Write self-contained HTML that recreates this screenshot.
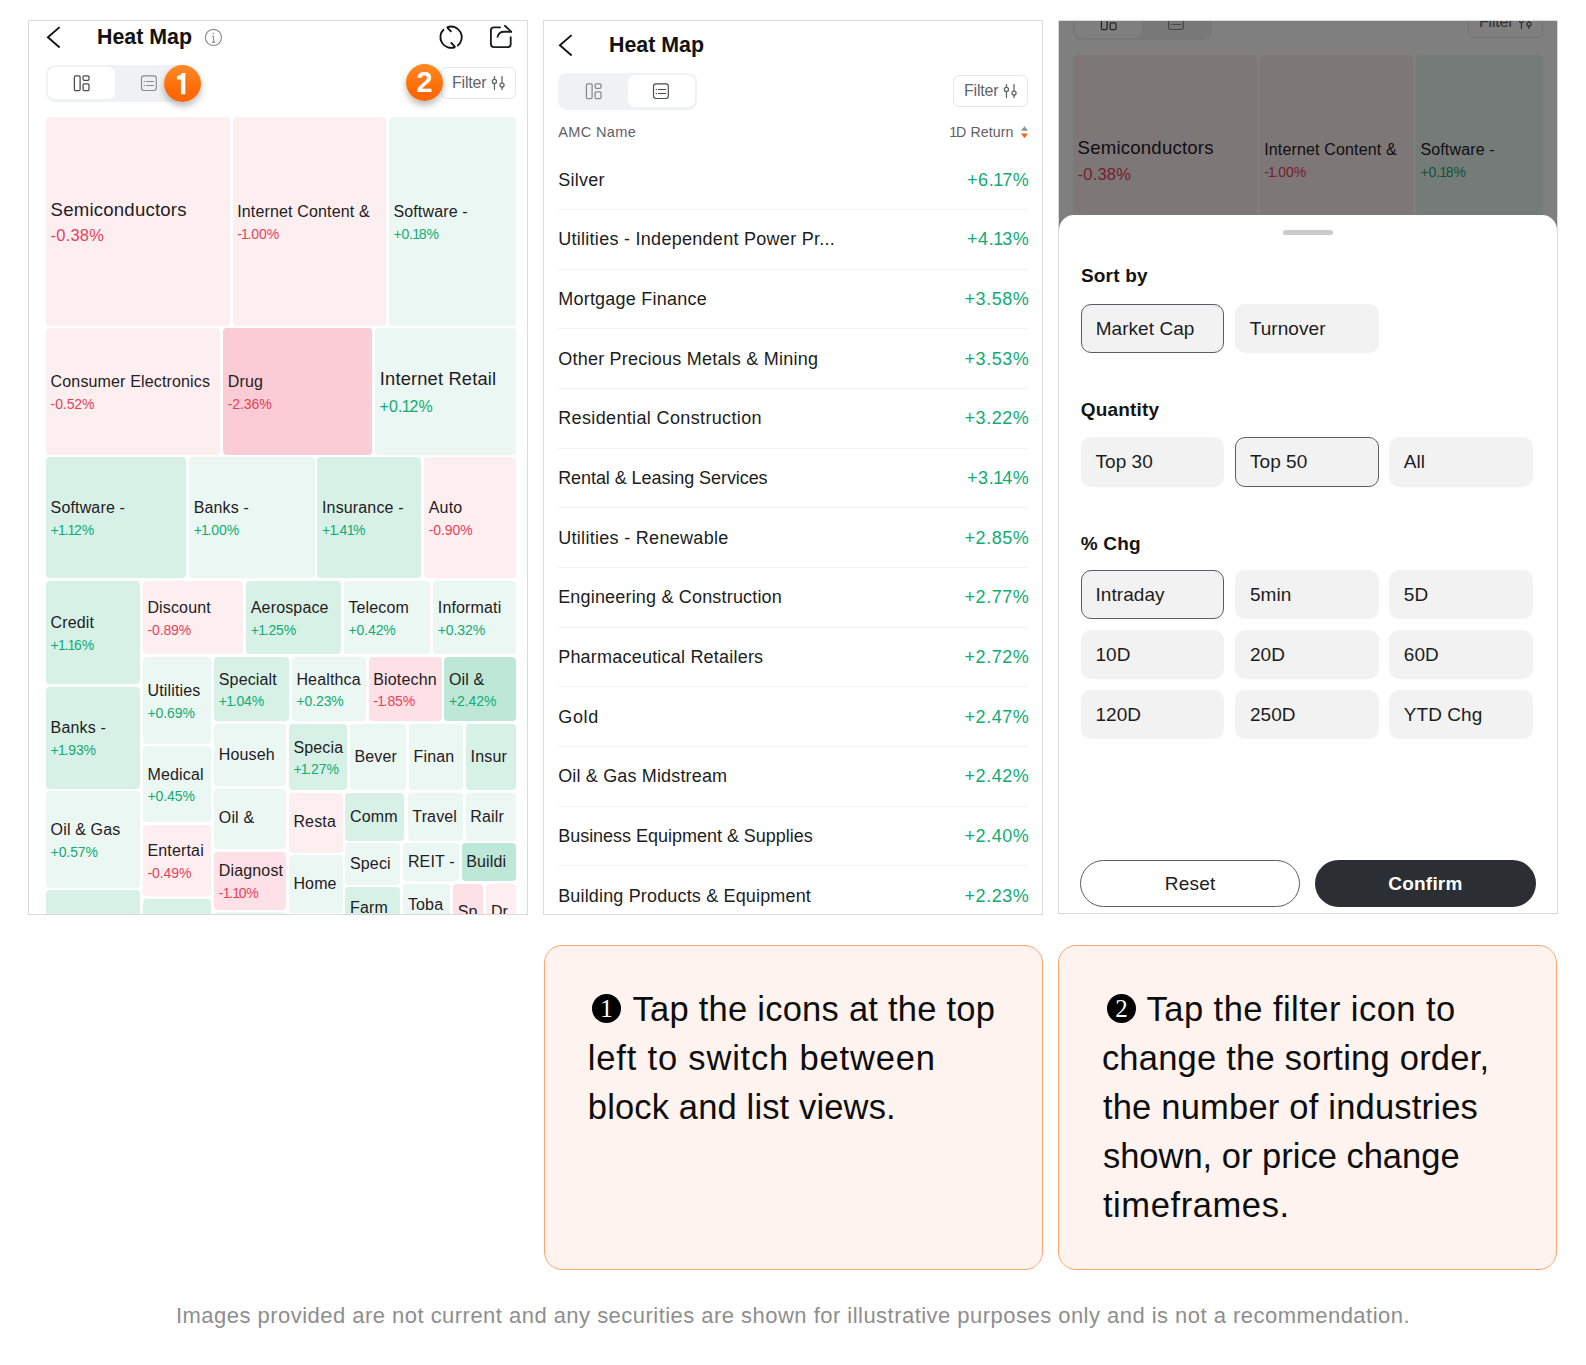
<!DOCTYPE html>
<html><head><meta charset="utf-8"><style>
*{margin:0;padding:0}
html,body{width:1586px;height:1365px;overflow:hidden;background:#fff}
body{position:relative;font-family:"Liberation Sans",sans-serif}
.t{position:absolute;white-space:pre}
.rr{position:absolute}
.tile{position:absolute;border-radius:4px}
.ic{position:absolute;overflow:visible}
.one{margin:0 -0.09em 0 -0.05em}
.panel{position:absolute;overflow:hidden}
.border{position:absolute;box-sizing:border-box;border:1px solid #dadada;pointer-events:none}
</style></head><body>
<div class="panel" style="left:0;top:0;width:1586px;height:1365px;clip-path:inset(21px 1059px 451px 29px)">
<svg class="ic" style="left:0.00px;top:0.00px" width="600" height="60" viewBox="0 0 600 60">
<polyline points="59.6,27.1 47.9,37.3 59.6,47.5" fill="none" stroke="#111" stroke-width="1.9" stroke-linecap="butt" stroke-linejoin="miter"/>
</svg>
<div class="t" style="left:96.60px;top:25.75px;font-size:22.5px;line-height:22.5px;color:#121212;font-weight:700;transform:scaleX(0.95);transform-origin:0 0;">Heat Map</div>
<svg class="ic" style="left:0.00px;top:0.00px" width="600" height="60" viewBox="0 0 600 60">
<circle cx="213.45" cy="37.4" r="8.05" fill="none" stroke="#8a8a8a" stroke-width="1.1"/>
<circle cx="213.5" cy="33.6" r="0.75" fill="#8a8a8a"/>
<path d="M212.1 36.2 H213.6 V41.9 M211.9 42.1 H215.2" fill="none" stroke="#8a8a8a" stroke-width="1.05"/>
<g fill="none" stroke="#111" stroke-width="1.85" stroke-linecap="butt">
<path d="M443.94 29.25 A10.7 10.7 0 0 0 455.11 47.12"/>
<path d="M450.9 42.3 L455.31 47.32"/>
<path d="M457.24 45.96 A10.7 10.7 0 0 0 447.09 27.28"/>
<path d="M446.89 27.08 L451.4 31.9"/>
</g>
<g fill="none" stroke="#1b1d21" stroke-width="1.85" stroke-linecap="round" stroke-linejoin="round">
<path d="M500.1 27.3 H494 Q490.9 27.3 490.9 30.4 V44 Q490.9 47.05 494 47.05 H507.6 Q510.7 47.05 510.7 44 V37.2"/>
<path d="M497.6 36.9 Q498.8 31.7 504 31.7 H511.2"/>
<path d="M504.9 25.8 L511.2 31.6"/>
</g>
</svg>
<div class="rr" style="left:46.30px;top:64.80px;width:138.7px;height:36.9px;background:#f0f1f3;border-radius:9px"></div>
<div class="rr" style="left:48.20px;top:67.30px;width:66.8px;height:32.1px;background:#fff;border-radius:7px"></div>
<svg class="ic" style="left:0.00px;top:0.00px" width="600" height="120" viewBox="0 0 600 120">
<rect x="74.4" y="75.9" width="5.7" height="14.6" rx="1.1" fill="none" stroke="#4b4b4b" stroke-width="1.25"/>
<rect x="83.1" y="75.9" width="5.9" height="4.4" rx="1.1" fill="none" stroke="#4b4b4b" stroke-width="1.25"/>
<rect x="83.1" y="83.8" width="5.9" height="6.7" rx="1.1" fill="none" stroke="#4b4b4b" stroke-width="1.25"/>
<rect x="141.5" y="75.85" width="14.8" height="14.6" rx="2.4" fill="none" stroke="#8a8a8a" stroke-width="1.15"/>
<circle cx="144.3" cy="81.5" r="0.7" fill="#8a8a8a"/><circle cx="144.3" cy="85.5" r="0.7" fill="#8a8a8a"/>
<line x1="146.4" y1="81.5" x2="153.6" y2="81.5" stroke="#8a8a8a" stroke-width="1.05" stroke-linecap="round"/>
<line x1="146.4" y1="85.5" x2="153.6" y2="85.5" stroke="#8a8a8a" stroke-width="1.05" stroke-linecap="round"/>
</svg>
<div class="rr" style="left:441.40px;top:67.40px;width:74.4px;height:31.9px;border:1px solid #e4e6ea;border-radius:6px;box-sizing:border-box;background:#fff"></div>
<div class="t" style="left:452.00px;top:75.06px;font-size:16px;line-height:16px;color:#62666d;font-weight:400;letter-spacing:-0.2px;">Filter</div>
<svg class="ic" style="left:0.00px;top:0.00px" width="600" height="120" viewBox="0 0 600 120">
<g stroke="#5f6368" stroke-width="1.25" fill="none" stroke-linecap="round">
<line x1="494.45" y1="76.6" x2="494.45" y2="79.4"/><line x1="494.45" y1="83.6" x2="494.45" y2="89.6"/>
<circle cx="494.45" cy="81.5" r="2.1"/>
<line x1="502" y1="76.6" x2="502" y2="83"/><line x1="502" y1="87.2" x2="502" y2="89.6"/>
<circle cx="502" cy="85.1" r="2.1"/>
</g></svg>
<div class="tile" style="left:46.00px;top:116.70px;width:184.00px;height:209.20px;background:#fdeff0"></div>
<div class="t" style="left:50.60px;top:200.66px;font-size:18.6px;line-height:18.6px;color:#1f2023;font-weight:400;letter-spacing:0.2px;">Semiconductors</div>
<div class="t" style="left:50.60px;top:227.33px;font-size:16.5px;line-height:16.5px;color:#ea3f5a;font-weight:400;letter-spacing:0.2px;">-0.38%</div>
<div class="tile" style="left:232.60px;top:116.70px;width:153.00px;height:209.20px;background:#fdeff0"></div>
<div class="t" style="left:237.20px;top:203.86px;font-size:16px;line-height:16px;color:#1f2023;font-weight:400;letter-spacing:0.15px;">Internet Content &amp;</div>
<div class="t" style="left:237.20px;top:226.65px;font-size:14px;line-height:14px;color:#ea3f5a;font-weight:400;letter-spacing:-0.1px;">-<span class="one">1</span>.00%</div>
<div class="tile" style="left:388.80px;top:116.70px;width:126.90px;height:209.20px;background:#ebf7f2"></div>
<div class="t" style="left:393.40px;top:203.86px;font-size:16px;line-height:16px;color:#1f2023;font-weight:400;letter-spacing:0.15px;">Software -</div>
<div class="t" style="left:393.40px;top:226.65px;font-size:14px;line-height:14px;color:#12ab73;font-weight:400;letter-spacing:-0.1px;">+0.<span class="one">1</span>8%</div>
<div class="tile" style="left:46.00px;top:328.40px;width:174.20px;height:126.50px;background:#fdeff0"></div>
<div class="t" style="left:50.60px;top:374.21px;font-size:16px;line-height:16px;color:#1f2023;font-weight:400;letter-spacing:0.15px;">Consumer Electronics</div>
<div class="t" style="left:50.60px;top:397.00px;font-size:14px;line-height:14px;color:#ea3f5a;font-weight:400;letter-spacing:-0.1px;">-0.52%</div>
<div class="tile" style="left:223.20px;top:328.40px;width:148.70px;height:126.50px;background:#fbccd5"></div>
<div class="t" style="left:227.80px;top:374.21px;font-size:16px;line-height:16px;color:#1f2023;font-weight:400;letter-spacing:0.15px;">Drug</div>
<div class="t" style="left:227.80px;top:397.00px;font-size:14px;line-height:14px;color:#ea3f5a;font-weight:400;letter-spacing:-0.1px;">-2.36%</div>
<div class="tile" style="left:374.90px;top:328.40px;width:140.80px;height:126.50px;background:#ebf7f2"></div>
<div class="t" style="left:379.80px;top:369.91px;font-size:18.3px;line-height:18.3px;color:#1f2023;font-weight:400;letter-spacing:0.18px;">Internet Retail</div>
<div class="t" style="left:379.50px;top:398.71px;font-size:16px;line-height:16px;color:#12ab73;font-weight:400;letter-spacing:0.15px;">+0.<span class="one">1</span>2%</div>
<div class="tile" style="left:46.00px;top:456.90px;width:140.30px;height:121.10px;background:#d7f1e7"></div>
<div class="t" style="left:50.60px;top:500.01px;font-size:16px;line-height:16px;color:#1f2023;font-weight:400;letter-spacing:0.15px;">Software -</div>
<div class="t" style="left:50.60px;top:522.80px;font-size:14px;line-height:14px;color:#12ab73;font-weight:400;letter-spacing:-0.1px;">+<span class="one">1</span>.<span class="one">1</span>2%</div>
<div class="tile" style="left:189.10px;top:456.90px;width:125.60px;height:121.10px;background:#ebf7f2"></div>
<div class="t" style="left:193.70px;top:500.01px;font-size:16px;line-height:16px;color:#1f2023;font-weight:400;letter-spacing:0.15px;">Banks -</div>
<div class="t" style="left:193.70px;top:522.80px;font-size:14px;line-height:14px;color:#12ab73;font-weight:400;letter-spacing:-0.1px;">+<span class="one">1</span>.00%</div>
<div class="tile" style="left:317.40px;top:456.90px;width:103.80px;height:121.10px;background:#d7f1e7"></div>
<div class="t" style="left:322.00px;top:500.01px;font-size:16px;line-height:16px;color:#1f2023;font-weight:400;letter-spacing:0.15px;">Insurance -</div>
<div class="t" style="left:322.00px;top:522.80px;font-size:14px;line-height:14px;color:#12ab73;font-weight:400;letter-spacing:-0.1px;">+<span class="one">1</span>.4<span class="one">1</span>%</div>
<div class="tile" style="left:424.20px;top:456.90px;width:91.50px;height:121.10px;background:#fdeff0"></div>
<div class="t" style="left:428.80px;top:500.01px;font-size:16px;line-height:16px;color:#1f2023;font-weight:400;letter-spacing:0.15px;">Auto</div>
<div class="t" style="left:428.80px;top:522.80px;font-size:14px;line-height:14px;color:#ea3f5a;font-weight:400;letter-spacing:-0.1px;">-0.90%</div>
<div class="tile" style="left:46.00px;top:580.70px;width:93.80px;height:103.30px;background:#d7f1e7"></div>
<div class="t" style="left:50.60px;top:614.91px;font-size:16px;line-height:16px;color:#1f2023;font-weight:400;letter-spacing:0.15px;">Credit</div>
<div class="t" style="left:50.60px;top:637.70px;font-size:14px;line-height:14px;color:#12ab73;font-weight:400;letter-spacing:-0.1px;">+<span class="one">1</span>.<span class="one">1</span>6%</div>
<div class="tile" style="left:46.00px;top:686.60px;width:93.80px;height:102.40px;background:#d7f1e7"></div>
<div class="t" style="left:50.60px;top:720.36px;font-size:16px;line-height:16px;color:#1f2023;font-weight:400;letter-spacing:0.15px;">Banks -</div>
<div class="t" style="left:50.60px;top:743.15px;font-size:14px;line-height:14px;color:#12ab73;font-weight:400;letter-spacing:-0.1px;">+<span class="one">1</span>.93%</div>
<div class="tile" style="left:46.00px;top:791.40px;width:93.80px;height:96.30px;background:#ebf7f2"></div>
<div class="t" style="left:50.60px;top:822.11px;font-size:16px;line-height:16px;color:#1f2023;font-weight:400;letter-spacing:0.15px;">Oil &amp; Gas</div>
<div class="t" style="left:50.60px;top:844.90px;font-size:14px;line-height:14px;color:#12ab73;font-weight:400;letter-spacing:-0.1px;">+0.57%</div>
<div class="tile" style="left:46.00px;top:890.20px;width:93.80px;height:50.50px;background:#d7f1e7"></div>
<div class="t" style="left:50.90px;top:912.96px;font-size:16px;line-height:16px;color:#1f2023;font-weight:400;">A</div>
<div class="tile" style="left:142.80px;top:580.70px;width:100.50px;height:73.30px;background:#fdeff0"></div>
<div class="t" style="left:147.40px;top:599.91px;font-size:16px;line-height:16px;color:#1f2023;font-weight:400;letter-spacing:0.15px;">Discount</div>
<div class="t" style="left:147.40px;top:622.70px;font-size:14px;line-height:14px;color:#ea3f5a;font-weight:400;letter-spacing:-0.1px;">-0.89%</div>
<div class="tile" style="left:246.20px;top:580.70px;width:94.50px;height:73.30px;background:#d7f1e7"></div>
<div class="t" style="left:250.80px;top:599.91px;font-size:16px;line-height:16px;color:#1f2023;font-weight:400;letter-spacing:0.15px;">Aerospace</div>
<div class="t" style="left:250.80px;top:622.70px;font-size:14px;line-height:14px;color:#12ab73;font-weight:400;letter-spacing:-0.1px;">+<span class="one">1</span>.25%</div>
<div class="tile" style="left:343.80px;top:580.70px;width:86.40px;height:73.30px;background:#ebf7f2"></div>
<div class="t" style="left:348.40px;top:599.91px;font-size:16px;line-height:16px;color:#1f2023;font-weight:400;letter-spacing:0.15px;">Telecom</div>
<div class="t" style="left:348.40px;top:622.70px;font-size:14px;line-height:14px;color:#12ab73;font-weight:400;letter-spacing:-0.1px;">+0.42%</div>
<div class="tile" style="left:433.20px;top:580.70px;width:82.50px;height:73.30px;background:#ebf7f2"></div>
<div class="t" style="left:437.80px;top:599.91px;font-size:16px;line-height:16px;color:#1f2023;font-weight:400;letter-spacing:0.15px;">Informati</div>
<div class="t" style="left:437.80px;top:622.70px;font-size:14px;line-height:14px;color:#12ab73;font-weight:400;letter-spacing:-0.1px;">+0.32%</div>
<div class="tile" style="left:142.90px;top:656.70px;width:68.00px;height:87.20px;background:#ebf7f2"></div>
<div class="t" style="left:147.50px;top:682.86px;font-size:16px;line-height:16px;color:#1f2023;font-weight:400;letter-spacing:0.15px;">Utilities</div>
<div class="t" style="left:147.50px;top:705.65px;font-size:14px;line-height:14px;color:#12ab73;font-weight:400;letter-spacing:-0.1px;">+0.69%</div>
<div class="tile" style="left:142.90px;top:746.40px;width:68.00px;height:75.20px;background:#ebf7f2"></div>
<div class="t" style="left:147.50px;top:766.56px;font-size:16px;line-height:16px;color:#1f2023;font-weight:400;letter-spacing:0.15px;">Medical</div>
<div class="t" style="left:147.50px;top:789.35px;font-size:14px;line-height:14px;color:#12ab73;font-weight:400;letter-spacing:-0.1px;">+0.45%</div>
<div class="tile" style="left:142.90px;top:824.70px;width:68.00px;height:71.30px;background:#fdeff0"></div>
<div class="t" style="left:147.50px;top:842.91px;font-size:16px;line-height:16px;color:#1f2023;font-weight:400;letter-spacing:0.15px;">Entertai</div>
<div class="t" style="left:147.50px;top:865.70px;font-size:14px;line-height:14px;color:#ea3f5a;font-weight:400;letter-spacing:-0.1px;">-0.49%</div>
<div class="tile" style="left:142.90px;top:898.60px;width:68.00px;height:62.10px;background:#d7f1e7"></div>
<div class="tile" style="left:214.20px;top:656.70px;width:74.60px;height:64.80px;background:#d7f1e7"></div>
<div class="t" style="left:218.80px;top:671.66px;font-size:16px;line-height:16px;color:#1f2023;font-weight:400;letter-spacing:0.15px;">Specialt</div>
<div class="t" style="left:218.80px;top:694.45px;font-size:14px;line-height:14px;color:#12ab73;font-weight:400;letter-spacing:-0.1px;">+<span class="one">1</span>.04%</div>
<div class="tile" style="left:291.80px;top:656.70px;width:73.80px;height:64.80px;background:#ebf7f2"></div>
<div class="t" style="left:296.40px;top:671.66px;font-size:16px;line-height:16px;color:#1f2023;font-weight:400;letter-spacing:0.15px;">Healthca</div>
<div class="t" style="left:296.40px;top:694.45px;font-size:14px;line-height:14px;color:#12ab73;font-weight:400;letter-spacing:-0.1px;">+0.23%</div>
<div class="tile" style="left:368.70px;top:656.70px;width:72.90px;height:64.80px;background:#fde1e6"></div>
<div class="t" style="left:373.30px;top:671.66px;font-size:16px;line-height:16px;color:#1f2023;font-weight:400;letter-spacing:0.15px;">Biotechn</div>
<div class="t" style="left:373.30px;top:694.45px;font-size:14px;line-height:14px;color:#ea3f5a;font-weight:400;letter-spacing:-0.1px;">-<span class="one">1</span>.85%</div>
<div class="tile" style="left:444.40px;top:656.70px;width:71.30px;height:64.80px;background:#bde8d8"></div>
<div class="t" style="left:449.00px;top:671.66px;font-size:16px;line-height:16px;color:#1f2023;font-weight:400;letter-spacing:0.15px;">Oil &amp;</div>
<div class="t" style="left:449.00px;top:694.45px;font-size:14px;line-height:14px;color:#12ab73;font-weight:400;letter-spacing:-0.1px;">+2.42%</div>
<div class="tile" style="left:214.20px;top:723.90px;width:71.50px;height:62.30px;background:#ebf7f2"></div>
<div class="t" style="left:218.80px;top:746.71px;font-size:16px;line-height:16px;color:#1f2023;font-weight:400;letter-spacing:0.15px;">Househ</div>
<div class="tile" style="left:214.20px;top:788.70px;width:71.50px;height:60.20px;background:#ebf7f2"></div>
<div class="t" style="left:218.80px;top:810.46px;font-size:16px;line-height:16px;color:#1f2023;font-weight:400;letter-spacing:0.15px;">Oil &amp;</div>
<div class="tile" style="left:214.20px;top:851.50px;width:71.50px;height:58.30px;background:#fde1e6"></div>
<div class="t" style="left:218.80px;top:863.21px;font-size:16px;line-height:16px;color:#1f2023;font-weight:400;letter-spacing:0.15px;">Diagnost</div>
<div class="t" style="left:218.80px;top:886.00px;font-size:14px;line-height:14px;color:#ea3f5a;font-weight:400;letter-spacing:-0.1px;">-<span class="one">1</span>.<span class="one">1</span>0%</div>
<div class="tile" style="left:214.20px;top:912.40px;width:71.50px;height:48.30px;background:#ebf7f2"></div>
<div class="tile" style="left:288.80px;top:723.90px;width:58.20px;height:66.40px;background:#d7f1e7"></div>
<div class="t" style="left:293.40px;top:739.66px;font-size:16px;line-height:16px;color:#1f2023;font-weight:400;letter-spacing:0.15px;">Specia</div>
<div class="t" style="left:293.40px;top:762.45px;font-size:14px;line-height:14px;color:#12ab73;font-weight:400;letter-spacing:-0.1px;">+<span class="one">1</span>.27%</div>
<div class="tile" style="left:349.80px;top:723.90px;width:56.30px;height:66.40px;background:#ebf7f2"></div>
<div class="t" style="left:354.40px;top:748.76px;font-size:16px;line-height:16px;color:#1f2023;font-weight:400;letter-spacing:0.15px;">Bever</div>
<div class="tile" style="left:408.90px;top:723.90px;width:54.40px;height:66.40px;background:#ebf7f2"></div>
<div class="t" style="left:413.50px;top:748.76px;font-size:16px;line-height:16px;color:#1f2023;font-weight:400;letter-spacing:0.15px;">Finan</div>
<div class="tile" style="left:466.00px;top:723.90px;width:49.70px;height:66.40px;background:#d7f1e7"></div>
<div class="t" style="left:470.60px;top:748.76px;font-size:16px;line-height:16px;color:#1f2023;font-weight:400;letter-spacing:0.15px;">Insur</div>
<div class="tile" style="left:288.80px;top:792.80px;width:53.80px;height:59.80px;background:#fdeff0"></div>
<div class="t" style="left:293.40px;top:814.36px;font-size:16px;line-height:16px;color:#1f2023;font-weight:400;letter-spacing:0.15px;">Resta</div>
<div class="tile" style="left:288.80px;top:855.00px;width:53.80px;height:58.20px;background:#ebf7f2"></div>
<div class="t" style="left:293.40px;top:875.76px;font-size:16px;line-height:16px;color:#1f2023;font-weight:400;letter-spacing:0.15px;">Home</div>
<div class="tile" style="left:345.40px;top:792.80px;width:59.10px;height:48.10px;background:#d7f1e7"></div>
<div class="t" style="left:350.00px;top:808.51px;font-size:16px;line-height:16px;color:#1f2023;font-weight:400;letter-spacing:0.15px;">Comm</div>
<div class="tile" style="left:407.70px;top:792.80px;width:55.20px;height:48.10px;background:#ebf7f2"></div>
<div class="t" style="left:412.30px;top:808.51px;font-size:16px;line-height:16px;color:#1f2023;font-weight:400;letter-spacing:0.15px;">Travel</div>
<div class="tile" style="left:465.70px;top:792.80px;width:50.00px;height:48.10px;background:#ebf7f2"></div>
<div class="t" style="left:470.30px;top:808.51px;font-size:16px;line-height:16px;color:#1f2023;font-weight:400;letter-spacing:0.15px;">Railr</div>
<div class="tile" style="left:345.40px;top:843.20px;width:54.70px;height:41.80px;background:#ebf7f2"></div>
<div class="t" style="left:350.00px;top:855.76px;font-size:16px;line-height:16px;color:#1f2023;font-weight:400;letter-spacing:0.15px;">Speci</div>
<div class="tile" style="left:403.30px;top:843.20px;width:55.30px;height:38.10px;background:#ebf7f2"></div>
<div class="t" style="left:407.90px;top:853.91px;font-size:16px;line-height:16px;color:#1f2023;font-weight:400;letter-spacing:0.15px;">REIT -</div>
<div class="tile" style="left:461.60px;top:843.20px;width:54.10px;height:38.10px;background:#bde8d8"></div>
<div class="t" style="left:466.20px;top:853.91px;font-size:16px;line-height:16px;color:#1f2023;font-weight:400;letter-spacing:0.15px;">Buildi</div>
<div class="tile" style="left:345.40px;top:887.30px;width:54.70px;height:41.60px;background:#d7f1e7"></div>
<div class="t" style="left:350.00px;top:899.76px;font-size:16px;line-height:16px;color:#1f2023;font-weight:400;letter-spacing:0.15px;">Farm</div>
<div class="tile" style="left:403.30px;top:884.00px;width:46.90px;height:41.70px;background:#ebf7f2"></div>
<div class="t" style="left:407.90px;top:896.51px;font-size:16px;line-height:16px;color:#1f2023;font-weight:400;letter-spacing:0.15px;">Toba</div>
<div class="tile" style="left:453.20px;top:884.00px;width:29.90px;height:56.30px;background:#fde1e6"></div>
<div class="t" style="left:457.80px;top:903.81px;font-size:16px;line-height:16px;color:#1f2023;font-weight:400;letter-spacing:0.15px;">Sp</div>
<div class="tile" style="left:486.30px;top:884.00px;width:29.40px;height:56.30px;background:#fdeff0"></div>
<div class="t" style="left:490.90px;top:903.81px;font-size:16px;line-height:16px;color:#1f2023;font-weight:400;letter-spacing:0.15px;">Dr</div>
</div>
<div class="border" style="left:28px;top:20px;width:500px;height:895px"></div>
<div class="rr" style="left:163.90px;top:65.30px;width:37px;height:37px;border-radius:50%;background:linear-gradient(180deg,#ff8a24 0%,#ff6a05 70%,#ff6400 100%);box-shadow:0 4px 7px rgba(0,0,0,0.28)"></div><svg class="ic" style="left:0;top:0" width="300" height="120" viewBox="0 0 300 120"><path d="M180.9 94.2 L185.3 94.2 L185.3 72.9 L181.5 72.9 Q180.9 75.8 176.9 76.0 L176.9 79.4 L180.9 79.4 Z" fill="#fff"/></svg>
<div class="rr" style="left:406.00px;top:64.10px;width:37px;height:37px;border-radius:50%;background:linear-gradient(180deg,#ff8a24 0%,#ff6a05 70%,#ff6400 100%);box-shadow:0 4px 7px rgba(0,0,0,0.28)"></div><div class="t" style="left:406.00px;width:37px;text-align:center;top:68.35px;font-size:29px;line-height:29px;color:#fff;font-weight:700">2</div>
<div class="panel" style="left:0;top:0;width:1586px;height:1365px;clip-path:inset(21px 544px 451px 544px)">
<svg class="ic" style="left:512.00px;top:8.00px" width="600" height="60" viewBox="0 0 600 60">
<polyline points="59.6,27.1 47.9,37.3 59.6,47.5" fill="none" stroke="#111" stroke-width="1.9" stroke-linecap="butt" stroke-linejoin="miter"/>
</svg>
<div class="t" style="left:608.60px;top:33.75px;font-size:22.5px;line-height:22.5px;color:#121212;font-weight:700;transform:scaleX(0.95);transform-origin:0 0;">Heat Map</div>
<div class="rr" style="left:558.30px;top:72.80px;width:138.7px;height:36.9px;background:#f0f1f3;border-radius:9px"></div>
<div class="rr" style="left:628.00px;top:75.30px;width:66.8px;height:32.1px;background:#fff;border-radius:7px"></div>
<svg class="ic" style="left:512.00px;top:8.00px" width="600" height="120" viewBox="0 0 600 120">
<rect x="74.4" y="75.9" width="5.7" height="14.6" rx="1.1" fill="none" stroke="#8a8a8a" stroke-width="1.25"/>
<rect x="83.1" y="75.9" width="5.9" height="4.4" rx="1.1" fill="none" stroke="#8a8a8a" stroke-width="1.25"/>
<rect x="83.1" y="83.8" width="5.9" height="6.7" rx="1.1" fill="none" stroke="#8a8a8a" stroke-width="1.25"/>
<rect x="141.5" y="75.85" width="14.8" height="14.6" rx="2.4" fill="none" stroke="#4b4b4b" stroke-width="1.15"/>
<circle cx="144.3" cy="81.5" r="0.7" fill="#4b4b4b"/><circle cx="144.3" cy="85.5" r="0.7" fill="#4b4b4b"/>
<line x1="146.4" y1="81.5" x2="153.6" y2="81.5" stroke="#4b4b4b" stroke-width="1.05" stroke-linecap="round"/>
<line x1="146.4" y1="85.5" x2="153.6" y2="85.5" stroke="#4b4b4b" stroke-width="1.05" stroke-linecap="round"/>
</svg>
<div class="rr" style="left:953.40px;top:75.40px;width:74.4px;height:31.9px;border:1px solid #e4e6ea;border-radius:6px;box-sizing:border-box;background:#fff"></div>
<div class="t" style="left:964.00px;top:83.06px;font-size:16px;line-height:16px;color:#62666d;font-weight:400;letter-spacing:-0.2px;">Filter</div>
<svg class="ic" style="left:512.00px;top:8.00px" width="600" height="120" viewBox="0 0 600 120">
<g stroke="#5f6368" stroke-width="1.25" fill="none" stroke-linecap="round">
<line x1="494.45" y1="76.6" x2="494.45" y2="79.4"/><line x1="494.45" y1="83.6" x2="494.45" y2="89.6"/>
<circle cx="494.45" cy="81.5" r="2.1"/>
<line x1="502" y1="76.6" x2="502" y2="83"/><line x1="502" y1="87.2" x2="502" y2="89.6"/>
<circle cx="502" cy="85.1" r="2.1"/>
</g></svg>
<div class="t" style="left:558.30px;top:125.24px;font-size:14.6px;line-height:14.6px;color:#5f6166;font-weight:400;letter-spacing:0.3px;">AMC Name</div>
<div class="t" style="left:950.00px;top:125.48px;font-size:14.2px;line-height:14.2px;color:#5f6166;font-weight:400;letter-spacing:0.1px;"><span class="one">1</span>D Return</div>
<svg class="ic" style="left:0;top:0" width="1100" height="150" viewBox="0 0 1100 150">
<path d="M1020.9 130.8 L1024.5 126.2 L1028.1 130.8 Z" fill="#8f949b"/>
<path d="M1020.9 133.6 L1028.1 133.6 L1024.5 138.3 Z" fill="#f46a1c"/>
</svg>
<div class="t" style="left:558.20px;top:170.66px;font-size:18px;line-height:18px;color:#1c1d20;font-weight:400;letter-spacing:0.25px;">Silver</div>
<div class="t" style="right:556.60px;top:170.66px;font-size:18px;line-height:18px;color:#12ab73;letter-spacing:0.55px">+6.<span class="one">1</span>7%</div>
<div class="rr" style="left:558px;top:209.10px;width:470px;height:1px;background:#f3f3f3"></div>
<div class="t" style="left:558.20px;top:230.33px;font-size:18px;line-height:18px;color:#1c1d20;font-weight:400;letter-spacing:0.28px;">Utilities - Independent Power Pr...</div>
<div class="t" style="right:556.60px;top:230.33px;font-size:18px;line-height:18px;color:#12ab73;letter-spacing:0.55px">+4.<span class="one">1</span>3%</div>
<div class="rr" style="left:558px;top:268.77px;width:470px;height:1px;background:#f3f3f3"></div>
<div class="t" style="left:558.20px;top:290.00px;font-size:18px;line-height:18px;color:#1c1d20;font-weight:400;letter-spacing:0.23px;">Mortgage Finance</div>
<div class="t" style="right:556.60px;top:290.00px;font-size:18px;line-height:18px;color:#12ab73;letter-spacing:0.55px">+3.58%</div>
<div class="rr" style="left:558px;top:328.44px;width:470px;height:1px;background:#f3f3f3"></div>
<div class="t" style="left:558.20px;top:349.67px;font-size:18px;line-height:18px;color:#1c1d20;font-weight:400;letter-spacing:0.23px;">Other Precious Metals &amp; Mining</div>
<div class="t" style="right:556.60px;top:349.67px;font-size:18px;line-height:18px;color:#12ab73;letter-spacing:0.55px">+3.53%</div>
<div class="rr" style="left:558px;top:388.11px;width:470px;height:1px;background:#f3f3f3"></div>
<div class="t" style="left:558.20px;top:409.34px;font-size:18px;line-height:18px;color:#1c1d20;font-weight:400;letter-spacing:0.36px;">Residential Construction</div>
<div class="t" style="right:556.60px;top:409.34px;font-size:18px;line-height:18px;color:#12ab73;letter-spacing:0.55px">+3.22%</div>
<div class="rr" style="left:558px;top:447.78px;width:470px;height:1px;background:#f3f3f3"></div>
<div class="t" style="left:558.20px;top:469.01px;font-size:18px;line-height:18px;color:#1c1d20;font-weight:400;letter-spacing:-0.07px;">Rental &amp; Leasing Services</div>
<div class="t" style="right:556.60px;top:469.01px;font-size:18px;line-height:18px;color:#12ab73;letter-spacing:0.55px">+3.<span class="one">1</span>4%</div>
<div class="rr" style="left:558px;top:507.45px;width:470px;height:1px;background:#f3f3f3"></div>
<div class="t" style="left:558.20px;top:528.68px;font-size:18px;line-height:18px;color:#1c1d20;font-weight:400;letter-spacing:0.3px;">Utilities - Renewable</div>
<div class="t" style="right:556.60px;top:528.68px;font-size:18px;line-height:18px;color:#12ab73;letter-spacing:0.55px">+2.85%</div>
<div class="rr" style="left:558px;top:567.12px;width:470px;height:1px;background:#f3f3f3"></div>
<div class="t" style="left:558.20px;top:588.35px;font-size:18px;line-height:18px;color:#1c1d20;font-weight:400;letter-spacing:0.18px;">Engineering &amp; Construction</div>
<div class="t" style="right:556.60px;top:588.35px;font-size:18px;line-height:18px;color:#12ab73;letter-spacing:0.55px">+2.77%</div>
<div class="rr" style="left:558px;top:626.79px;width:470px;height:1px;background:#f3f3f3"></div>
<div class="t" style="left:558.20px;top:648.02px;font-size:18px;line-height:18px;color:#1c1d20;font-weight:400;letter-spacing:0.21px;">Pharmaceutical Retailers</div>
<div class="t" style="right:556.60px;top:648.02px;font-size:18px;line-height:18px;color:#12ab73;letter-spacing:0.55px">+2.72%</div>
<div class="rr" style="left:558px;top:686.46px;width:470px;height:1px;background:#f3f3f3"></div>
<div class="t" style="left:558.20px;top:707.69px;font-size:18px;line-height:18px;color:#1c1d20;font-weight:400;letter-spacing:0.7px;">Gold</div>
<div class="t" style="right:556.60px;top:707.69px;font-size:18px;line-height:18px;color:#12ab73;letter-spacing:0.55px">+2.47%</div>
<div class="rr" style="left:558px;top:746.13px;width:470px;height:1px;background:#f3f3f3"></div>
<div class="t" style="left:558.20px;top:767.36px;font-size:18px;line-height:18px;color:#1c1d20;font-weight:400;letter-spacing:0.16px;">Oil &amp; Gas Midstream</div>
<div class="t" style="right:556.60px;top:767.36px;font-size:18px;line-height:18px;color:#12ab73;letter-spacing:0.55px">+2.42%</div>
<div class="rr" style="left:558px;top:805.80px;width:470px;height:1px;background:#f3f3f3"></div>
<div class="t" style="left:558.20px;top:827.03px;font-size:18px;line-height:18px;color:#1c1d20;font-weight:400;letter-spacing:-0.02px;">Business Equipment &amp; Supplies</div>
<div class="t" style="right:556.60px;top:827.03px;font-size:18px;line-height:18px;color:#12ab73;letter-spacing:0.55px">+2.40%</div>
<div class="rr" style="left:558px;top:865.47px;width:470px;height:1px;background:#f3f3f3"></div>
<div class="t" style="left:558.20px;top:886.70px;font-size:18px;line-height:18px;color:#1c1d20;font-weight:400;letter-spacing:0.16px;">Building Products &amp; Equipment</div>
<div class="t" style="right:556.60px;top:886.70px;font-size:18px;line-height:18px;color:#12ab73;letter-spacing:0.55px">+2.23%</div>
</div>
<div class="border" style="left:543px;top:20px;width:500px;height:895px"></div>
<div class="panel" style="left:0;top:0;width:1586px;height:1365px;clip-path:inset(21px 29px 452px 1059px)">
<div class="rr" style="left:1073.30px;top:3.30px;width:138.7px;height:36.9px;background:#f0f1f3;border-radius:9px"></div>
<div class="rr" style="left:1075.20px;top:5.80px;width:66.8px;height:32.1px;background:#fff;border-radius:7px"></div>
<svg class="ic" style="left:1027.00px;top:-61.50px" width="600" height="120" viewBox="0 0 600 120">
<rect x="74.4" y="75.9" width="5.7" height="14.6" rx="1.1" fill="none" stroke="#4b4b4b" stroke-width="1.25"/>
<rect x="83.1" y="75.9" width="5.9" height="4.4" rx="1.1" fill="none" stroke="#4b4b4b" stroke-width="1.25"/>
<rect x="83.1" y="83.8" width="5.9" height="6.7" rx="1.1" fill="none" stroke="#4b4b4b" stroke-width="1.25"/>
<rect x="141.5" y="75.85" width="14.8" height="14.6" rx="2.4" fill="none" stroke="#8a8a8a" stroke-width="1.15"/>
<circle cx="144.3" cy="81.5" r="0.7" fill="#8a8a8a"/><circle cx="144.3" cy="85.5" r="0.7" fill="#8a8a8a"/>
<line x1="146.4" y1="81.5" x2="153.6" y2="81.5" stroke="#8a8a8a" stroke-width="1.05" stroke-linecap="round"/>
<line x1="146.4" y1="85.5" x2="153.6" y2="85.5" stroke="#8a8a8a" stroke-width="1.05" stroke-linecap="round"/>
</svg>
<div class="rr" style="left:1468.40px;top:5.90px;width:74.4px;height:31.9px;border:1px solid #e4e6ea;border-radius:6px;box-sizing:border-box;background:#fff"></div>
<div class="t" style="left:1479.00px;top:13.56px;font-size:16px;line-height:16px;color:#62666d;font-weight:400;letter-spacing:-0.2px;">Filter</div>
<svg class="ic" style="left:1027.00px;top:-61.50px" width="600" height="120" viewBox="0 0 600 120">
<g stroke="#5f6368" stroke-width="1.25" fill="none" stroke-linecap="round">
<line x1="494.45" y1="76.6" x2="494.45" y2="79.4"/><line x1="494.45" y1="83.6" x2="494.45" y2="89.6"/>
<circle cx="494.45" cy="81.5" r="2.1"/>
<line x1="502" y1="76.6" x2="502" y2="83"/><line x1="502" y1="87.2" x2="502" y2="89.6"/>
<circle cx="502" cy="85.1" r="2.1"/>
</g></svg>
<div class="tile" style="left:1073.00px;top:55.20px;width:184.00px;height:209.20px;background:#fdeff0"></div>
<div class="t" style="left:1077.60px;top:139.16px;font-size:18.6px;line-height:18.6px;color:#1f2023;font-weight:400;letter-spacing:0.2px;">Semiconductors</div>
<div class="t" style="left:1077.60px;top:165.83px;font-size:16.5px;line-height:16.5px;color:#ea3f5a;font-weight:400;letter-spacing:0.2px;">-0.38%</div>
<div class="tile" style="left:1259.60px;top:55.20px;width:153.00px;height:209.20px;background:#fdeff0"></div>
<div class="t" style="left:1264.20px;top:142.36px;font-size:16px;line-height:16px;color:#1f2023;font-weight:400;letter-spacing:0.15px;">Internet Content &amp;</div>
<div class="t" style="left:1264.20px;top:165.15px;font-size:14px;line-height:14px;color:#ea3f5a;font-weight:400;letter-spacing:-0.1px;">-<span class="one">1</span>.00%</div>
<div class="tile" style="left:1415.80px;top:55.20px;width:126.90px;height:209.20px;background:#ebf7f2"></div>
<div class="t" style="left:1420.40px;top:142.36px;font-size:16px;line-height:16px;color:#1f2023;font-weight:400;letter-spacing:0.15px;">Software -</div>
<div class="t" style="left:1420.40px;top:165.15px;font-size:14px;line-height:14px;color:#12ab73;font-weight:400;letter-spacing:-0.1px;">+0.<span class="one">1</span>8%</div>
<div class="tile" style="left:1073.00px;top:266.90px;width:174.20px;height:126.50px;background:#fdeff0"></div>
<div class="t" style="left:1077.60px;top:312.71px;font-size:16px;line-height:16px;color:#1f2023;font-weight:400;letter-spacing:0.15px;">Consumer Electronics</div>
<div class="t" style="left:1077.60px;top:335.50px;font-size:14px;line-height:14px;color:#ea3f5a;font-weight:400;letter-spacing:-0.1px;">-0.52%</div>
<div class="tile" style="left:1250.20px;top:266.90px;width:148.70px;height:126.50px;background:#fbccd5"></div>
<div class="t" style="left:1254.80px;top:312.71px;font-size:16px;line-height:16px;color:#1f2023;font-weight:400;letter-spacing:0.15px;">Drug</div>
<div class="t" style="left:1254.80px;top:335.50px;font-size:14px;line-height:14px;color:#ea3f5a;font-weight:400;letter-spacing:-0.1px;">-2.36%</div>
<div class="tile" style="left:1401.90px;top:266.90px;width:140.80px;height:126.50px;background:#ebf7f2"></div>
<div class="t" style="left:1406.80px;top:308.41px;font-size:18.3px;line-height:18.3px;color:#1f2023;font-weight:400;letter-spacing:0.18px;">Internet Retail</div>
<div class="t" style="left:1406.50px;top:337.21px;font-size:16px;line-height:16px;color:#12ab73;font-weight:400;letter-spacing:0.15px;">+0.<span class="one">1</span>2%</div>
<div class="tile" style="left:1073.00px;top:395.40px;width:140.30px;height:121.10px;background:#d7f1e7"></div>
<div class="t" style="left:1077.60px;top:438.51px;font-size:16px;line-height:16px;color:#1f2023;font-weight:400;letter-spacing:0.15px;">Software -</div>
<div class="t" style="left:1077.60px;top:461.30px;font-size:14px;line-height:14px;color:#12ab73;font-weight:400;letter-spacing:-0.1px;">+<span class="one">1</span>.<span class="one">1</span>2%</div>
<div class="tile" style="left:1216.10px;top:395.40px;width:125.60px;height:121.10px;background:#ebf7f2"></div>
<div class="t" style="left:1220.70px;top:438.51px;font-size:16px;line-height:16px;color:#1f2023;font-weight:400;letter-spacing:0.15px;">Banks -</div>
<div class="t" style="left:1220.70px;top:461.30px;font-size:14px;line-height:14px;color:#12ab73;font-weight:400;letter-spacing:-0.1px;">+<span class="one">1</span>.00%</div>
<div class="tile" style="left:1344.40px;top:395.40px;width:103.80px;height:121.10px;background:#d7f1e7"></div>
<div class="t" style="left:1349.00px;top:438.51px;font-size:16px;line-height:16px;color:#1f2023;font-weight:400;letter-spacing:0.15px;">Insurance -</div>
<div class="t" style="left:1349.00px;top:461.30px;font-size:14px;line-height:14px;color:#12ab73;font-weight:400;letter-spacing:-0.1px;">+<span class="one">1</span>.4<span class="one">1</span>%</div>
<div class="tile" style="left:1451.20px;top:395.40px;width:91.50px;height:121.10px;background:#fdeff0"></div>
<div class="t" style="left:1455.80px;top:438.51px;font-size:16px;line-height:16px;color:#1f2023;font-weight:400;letter-spacing:0.15px;">Auto</div>
<div class="t" style="left:1455.80px;top:461.30px;font-size:14px;line-height:14px;color:#ea3f5a;font-weight:400;letter-spacing:-0.1px;">-0.90%</div>
<div class="tile" style="left:1073.00px;top:519.20px;width:93.80px;height:103.30px;background:#d7f1e7"></div>
<div class="t" style="left:1077.60px;top:553.41px;font-size:16px;line-height:16px;color:#1f2023;font-weight:400;letter-spacing:0.15px;">Credit</div>
<div class="t" style="left:1077.60px;top:576.20px;font-size:14px;line-height:14px;color:#12ab73;font-weight:400;letter-spacing:-0.1px;">+<span class="one">1</span>.<span class="one">1</span>6%</div>
<div class="tile" style="left:1073.00px;top:625.10px;width:93.80px;height:102.40px;background:#d7f1e7"></div>
<div class="t" style="left:1077.60px;top:658.86px;font-size:16px;line-height:16px;color:#1f2023;font-weight:400;letter-spacing:0.15px;">Banks -</div>
<div class="t" style="left:1077.60px;top:681.65px;font-size:14px;line-height:14px;color:#12ab73;font-weight:400;letter-spacing:-0.1px;">+<span class="one">1</span>.93%</div>
<div class="tile" style="left:1073.00px;top:729.90px;width:93.80px;height:96.30px;background:#ebf7f2"></div>
<div class="t" style="left:1077.60px;top:760.61px;font-size:16px;line-height:16px;color:#1f2023;font-weight:400;letter-spacing:0.15px;">Oil &amp; Gas</div>
<div class="t" style="left:1077.60px;top:783.40px;font-size:14px;line-height:14px;color:#12ab73;font-weight:400;letter-spacing:-0.1px;">+0.57%</div>
<div class="tile" style="left:1073.00px;top:828.70px;width:93.80px;height:50.50px;background:#d7f1e7"></div>
<div class="t" style="left:1077.90px;top:912.96px;font-size:16px;line-height:16px;color:#1f2023;font-weight:400;">A</div>
<div class="tile" style="left:1169.80px;top:519.20px;width:100.50px;height:73.30px;background:#fdeff0"></div>
<div class="t" style="left:1174.40px;top:538.41px;font-size:16px;line-height:16px;color:#1f2023;font-weight:400;letter-spacing:0.15px;">Discount</div>
<div class="t" style="left:1174.40px;top:561.20px;font-size:14px;line-height:14px;color:#ea3f5a;font-weight:400;letter-spacing:-0.1px;">-0.89%</div>
<div class="tile" style="left:1273.20px;top:519.20px;width:94.50px;height:73.30px;background:#d7f1e7"></div>
<div class="t" style="left:1277.80px;top:538.41px;font-size:16px;line-height:16px;color:#1f2023;font-weight:400;letter-spacing:0.15px;">Aerospace</div>
<div class="t" style="left:1277.80px;top:561.20px;font-size:14px;line-height:14px;color:#12ab73;font-weight:400;letter-spacing:-0.1px;">+<span class="one">1</span>.25%</div>
<div class="tile" style="left:1370.80px;top:519.20px;width:86.40px;height:73.30px;background:#ebf7f2"></div>
<div class="t" style="left:1375.40px;top:538.41px;font-size:16px;line-height:16px;color:#1f2023;font-weight:400;letter-spacing:0.15px;">Telecom</div>
<div class="t" style="left:1375.40px;top:561.20px;font-size:14px;line-height:14px;color:#12ab73;font-weight:400;letter-spacing:-0.1px;">+0.42%</div>
<div class="tile" style="left:1460.20px;top:519.20px;width:82.50px;height:73.30px;background:#ebf7f2"></div>
<div class="t" style="left:1464.80px;top:538.41px;font-size:16px;line-height:16px;color:#1f2023;font-weight:400;letter-spacing:0.15px;">Informati</div>
<div class="t" style="left:1464.80px;top:561.20px;font-size:14px;line-height:14px;color:#12ab73;font-weight:400;letter-spacing:-0.1px;">+0.32%</div>
<div class="tile" style="left:1169.90px;top:595.20px;width:68.00px;height:87.20px;background:#ebf7f2"></div>
<div class="t" style="left:1174.50px;top:621.36px;font-size:16px;line-height:16px;color:#1f2023;font-weight:400;letter-spacing:0.15px;">Utilities</div>
<div class="t" style="left:1174.50px;top:644.15px;font-size:14px;line-height:14px;color:#12ab73;font-weight:400;letter-spacing:-0.1px;">+0.69%</div>
<div class="tile" style="left:1169.90px;top:684.90px;width:68.00px;height:75.20px;background:#ebf7f2"></div>
<div class="t" style="left:1174.50px;top:705.06px;font-size:16px;line-height:16px;color:#1f2023;font-weight:400;letter-spacing:0.15px;">Medical</div>
<div class="t" style="left:1174.50px;top:727.85px;font-size:14px;line-height:14px;color:#12ab73;font-weight:400;letter-spacing:-0.1px;">+0.45%</div>
<div class="tile" style="left:1169.90px;top:763.20px;width:68.00px;height:71.30px;background:#fdeff0"></div>
<div class="t" style="left:1174.50px;top:781.41px;font-size:16px;line-height:16px;color:#1f2023;font-weight:400;letter-spacing:0.15px;">Entertai</div>
<div class="t" style="left:1174.50px;top:804.20px;font-size:14px;line-height:14px;color:#ea3f5a;font-weight:400;letter-spacing:-0.1px;">-0.49%</div>
<div class="tile" style="left:1169.90px;top:837.10px;width:68.00px;height:62.10px;background:#d7f1e7"></div>
<div class="tile" style="left:1241.20px;top:595.20px;width:74.60px;height:64.80px;background:#d7f1e7"></div>
<div class="t" style="left:1245.80px;top:610.16px;font-size:16px;line-height:16px;color:#1f2023;font-weight:400;letter-spacing:0.15px;">Specialt</div>
<div class="t" style="left:1245.80px;top:632.95px;font-size:14px;line-height:14px;color:#12ab73;font-weight:400;letter-spacing:-0.1px;">+<span class="one">1</span>.04%</div>
<div class="tile" style="left:1318.80px;top:595.20px;width:73.80px;height:64.80px;background:#ebf7f2"></div>
<div class="t" style="left:1323.40px;top:610.16px;font-size:16px;line-height:16px;color:#1f2023;font-weight:400;letter-spacing:0.15px;">Healthca</div>
<div class="t" style="left:1323.40px;top:632.95px;font-size:14px;line-height:14px;color:#12ab73;font-weight:400;letter-spacing:-0.1px;">+0.23%</div>
<div class="tile" style="left:1395.70px;top:595.20px;width:72.90px;height:64.80px;background:#fde1e6"></div>
<div class="t" style="left:1400.30px;top:610.16px;font-size:16px;line-height:16px;color:#1f2023;font-weight:400;letter-spacing:0.15px;">Biotechn</div>
<div class="t" style="left:1400.30px;top:632.95px;font-size:14px;line-height:14px;color:#ea3f5a;font-weight:400;letter-spacing:-0.1px;">-<span class="one">1</span>.85%</div>
<div class="tile" style="left:1471.40px;top:595.20px;width:71.30px;height:64.80px;background:#bde8d8"></div>
<div class="t" style="left:1476.00px;top:610.16px;font-size:16px;line-height:16px;color:#1f2023;font-weight:400;letter-spacing:0.15px;">Oil &amp;</div>
<div class="t" style="left:1476.00px;top:632.95px;font-size:14px;line-height:14px;color:#12ab73;font-weight:400;letter-spacing:-0.1px;">+2.42%</div>
<div class="tile" style="left:1241.20px;top:662.40px;width:71.50px;height:62.30px;background:#ebf7f2"></div>
<div class="t" style="left:1245.80px;top:685.21px;font-size:16px;line-height:16px;color:#1f2023;font-weight:400;letter-spacing:0.15px;">Househ</div>
<div class="tile" style="left:1241.20px;top:727.20px;width:71.50px;height:60.20px;background:#ebf7f2"></div>
<div class="t" style="left:1245.80px;top:748.96px;font-size:16px;line-height:16px;color:#1f2023;font-weight:400;letter-spacing:0.15px;">Oil &amp;</div>
<div class="tile" style="left:1241.20px;top:790.00px;width:71.50px;height:58.30px;background:#fde1e6"></div>
<div class="t" style="left:1245.80px;top:801.71px;font-size:16px;line-height:16px;color:#1f2023;font-weight:400;letter-spacing:0.15px;">Diagnost</div>
<div class="t" style="left:1245.80px;top:824.50px;font-size:14px;line-height:14px;color:#ea3f5a;font-weight:400;letter-spacing:-0.1px;">-<span class="one">1</span>.<span class="one">1</span>0%</div>
<div class="tile" style="left:1241.20px;top:850.90px;width:71.50px;height:48.30px;background:#ebf7f2"></div>
<div class="tile" style="left:1315.80px;top:662.40px;width:58.20px;height:66.40px;background:#d7f1e7"></div>
<div class="t" style="left:1320.40px;top:678.16px;font-size:16px;line-height:16px;color:#1f2023;font-weight:400;letter-spacing:0.15px;">Specia</div>
<div class="t" style="left:1320.40px;top:700.95px;font-size:14px;line-height:14px;color:#12ab73;font-weight:400;letter-spacing:-0.1px;">+<span class="one">1</span>.27%</div>
<div class="tile" style="left:1376.80px;top:662.40px;width:56.30px;height:66.40px;background:#ebf7f2"></div>
<div class="t" style="left:1381.40px;top:687.26px;font-size:16px;line-height:16px;color:#1f2023;font-weight:400;letter-spacing:0.15px;">Bever</div>
<div class="tile" style="left:1435.90px;top:662.40px;width:54.40px;height:66.40px;background:#ebf7f2"></div>
<div class="t" style="left:1440.50px;top:687.26px;font-size:16px;line-height:16px;color:#1f2023;font-weight:400;letter-spacing:0.15px;">Finan</div>
<div class="tile" style="left:1493.00px;top:662.40px;width:49.70px;height:66.40px;background:#d7f1e7"></div>
<div class="t" style="left:1497.60px;top:687.26px;font-size:16px;line-height:16px;color:#1f2023;font-weight:400;letter-spacing:0.15px;">Insur</div>
<div class="tile" style="left:1315.80px;top:731.30px;width:53.80px;height:59.80px;background:#fdeff0"></div>
<div class="t" style="left:1320.40px;top:752.86px;font-size:16px;line-height:16px;color:#1f2023;font-weight:400;letter-spacing:0.15px;">Resta</div>
<div class="tile" style="left:1315.80px;top:793.50px;width:53.80px;height:58.20px;background:#ebf7f2"></div>
<div class="t" style="left:1320.40px;top:814.26px;font-size:16px;line-height:16px;color:#1f2023;font-weight:400;letter-spacing:0.15px;">Home</div>
<div class="tile" style="left:1372.40px;top:731.30px;width:59.10px;height:48.10px;background:#d7f1e7"></div>
<div class="t" style="left:1377.00px;top:747.01px;font-size:16px;line-height:16px;color:#1f2023;font-weight:400;letter-spacing:0.15px;">Comm</div>
<div class="tile" style="left:1434.70px;top:731.30px;width:55.20px;height:48.10px;background:#ebf7f2"></div>
<div class="t" style="left:1439.30px;top:747.01px;font-size:16px;line-height:16px;color:#1f2023;font-weight:400;letter-spacing:0.15px;">Travel</div>
<div class="tile" style="left:1492.70px;top:731.30px;width:50.00px;height:48.10px;background:#ebf7f2"></div>
<div class="t" style="left:1497.30px;top:747.01px;font-size:16px;line-height:16px;color:#1f2023;font-weight:400;letter-spacing:0.15px;">Railr</div>
<div class="tile" style="left:1372.40px;top:781.70px;width:54.70px;height:41.80px;background:#ebf7f2"></div>
<div class="t" style="left:1377.00px;top:794.26px;font-size:16px;line-height:16px;color:#1f2023;font-weight:400;letter-spacing:0.15px;">Speci</div>
<div class="tile" style="left:1430.30px;top:781.70px;width:55.30px;height:38.10px;background:#ebf7f2"></div>
<div class="t" style="left:1434.90px;top:792.41px;font-size:16px;line-height:16px;color:#1f2023;font-weight:400;letter-spacing:0.15px;">REIT -</div>
<div class="tile" style="left:1488.60px;top:781.70px;width:54.10px;height:38.10px;background:#bde8d8"></div>
<div class="t" style="left:1493.20px;top:792.41px;font-size:16px;line-height:16px;color:#1f2023;font-weight:400;letter-spacing:0.15px;">Buildi</div>
<div class="tile" style="left:1372.40px;top:825.80px;width:54.70px;height:41.60px;background:#d7f1e7"></div>
<div class="t" style="left:1377.00px;top:838.26px;font-size:16px;line-height:16px;color:#1f2023;font-weight:400;letter-spacing:0.15px;">Farm</div>
<div class="tile" style="left:1430.30px;top:822.50px;width:46.90px;height:41.70px;background:#ebf7f2"></div>
<div class="t" style="left:1434.90px;top:835.01px;font-size:16px;line-height:16px;color:#1f2023;font-weight:400;letter-spacing:0.15px;">Toba</div>
<div class="tile" style="left:1480.20px;top:822.50px;width:29.90px;height:56.30px;background:#fde1e6"></div>
<div class="t" style="left:1484.80px;top:842.31px;font-size:16px;line-height:16px;color:#1f2023;font-weight:400;letter-spacing:0.15px;">Sp</div>
<div class="tile" style="left:1513.30px;top:822.50px;width:29.40px;height:56.30px;background:#fdeff0"></div>
<div class="t" style="left:1517.90px;top:842.31px;font-size:16px;line-height:16px;color:#1f2023;font-weight:400;letter-spacing:0.15px;">Dr</div>
<div class="rr" style="left:1058px;top:20px;width:500px;height:900px;background:rgba(0,0,0,0.5)"></div>
<div class="rr" style="left:1059px;top:215px;width:498px;height:720px;background:#fff;border-radius:15px 15px 0 0"></div>
<div class="rr" style="left:1283px;top:230.3px;width:50px;height:4.9px;background:#cacbce;border-radius:3px"></div>
<div class="t" style="left:1080.90px;top:265.92px;font-size:19px;line-height:19px;color:#141414;font-weight:700;letter-spacing:0.2px;">Sort by</div>
<div class="rr" style="left:1080.90px;top:304.00px;width:143.30px;height:48.60px;background:#f2f2f2;border-radius:10px;box-sizing:border-box;border:1px solid #5a5d62;"></div><div class="t" style="left:1095.70px;top:318.62px;font-size:19px;line-height:19px;color:#1c1d20;font-weight:400;letter-spacing:0.05px;">Market Cap</div>
<div class="rr" style="left:1235.00px;top:304.00px;width:143.50px;height:48.60px;background:#f2f2f2;border-radius:10px;box-sizing:border-box;"></div><div class="t" style="left:1249.80px;top:318.62px;font-size:19px;line-height:19px;color:#1c1d20;font-weight:400;letter-spacing:0.05px;">Turnover</div>
<div class="t" style="left:1080.70px;top:400.22px;font-size:19px;line-height:19px;color:#141414;font-weight:700;letter-spacing:0.2px;">Quantity</div>
<div class="rr" style="left:1080.70px;top:436.70px;width:143.80px;height:49.90px;background:#f2f2f2;border-radius:10px;box-sizing:border-box;"></div><div class="t" style="left:1095.50px;top:451.97px;font-size:19px;line-height:19px;color:#1c1d20;font-weight:400;letter-spacing:0.05px;">Top 30</div>
<div class="rr" style="left:1235.20px;top:436.70px;width:143.80px;height:49.90px;background:#f2f2f2;border-radius:10px;box-sizing:border-box;border:1px solid #5a5d62;"></div><div class="t" style="left:1250.00px;top:451.97px;font-size:19px;line-height:19px;color:#1c1d20;font-weight:400;letter-spacing:0.05px;">Top 50</div>
<div class="rr" style="left:1389.00px;top:436.70px;width:144.10px;height:49.90px;background:#f2f2f2;border-radius:10px;box-sizing:border-box;"></div><div class="t" style="left:1403.80px;top:451.97px;font-size:19px;line-height:19px;color:#1c1d20;font-weight:400;letter-spacing:0.05px;">All</div>
<div class="t" style="left:1080.70px;top:534.12px;font-size:19px;line-height:19px;color:#141414;font-weight:700;letter-spacing:0.2px;">% Chg</div>
<div class="rr" style="left:1080.70px;top:570.10px;width:143.80px;height:48.90px;background:#f2f2f2;border-radius:10px;box-sizing:border-box;border:1px solid #5a5d62;"></div><div class="t" style="left:1095.50px;top:584.87px;font-size:19px;line-height:19px;color:#1c1d20;font-weight:400;letter-spacing:0.05px;">Intraday</div>
<div class="rr" style="left:1235.20px;top:570.10px;width:143.80px;height:48.90px;background:#f2f2f2;border-radius:10px;box-sizing:border-box;"></div><div class="t" style="left:1250.00px;top:584.87px;font-size:19px;line-height:19px;color:#1c1d20;font-weight:400;letter-spacing:0.05px;">5min</div>
<div class="rr" style="left:1389.00px;top:570.10px;width:144.10px;height:48.90px;background:#f2f2f2;border-radius:10px;box-sizing:border-box;"></div><div class="t" style="left:1403.80px;top:584.87px;font-size:19px;line-height:19px;color:#1c1d20;font-weight:400;letter-spacing:0.05px;">5D</div>
<div class="rr" style="left:1080.70px;top:630.00px;width:143.80px;height:48.90px;background:#f2f2f2;border-radius:10px;box-sizing:border-box;"></div><div class="t" style="left:1095.50px;top:644.77px;font-size:19px;line-height:19px;color:#1c1d20;font-weight:400;letter-spacing:0.05px;">10D</div>
<div class="rr" style="left:1235.20px;top:630.00px;width:143.80px;height:48.90px;background:#f2f2f2;border-radius:10px;box-sizing:border-box;"></div><div class="t" style="left:1250.00px;top:644.77px;font-size:19px;line-height:19px;color:#1c1d20;font-weight:400;letter-spacing:0.05px;">20D</div>
<div class="rr" style="left:1389.00px;top:630.00px;width:144.10px;height:48.90px;background:#f2f2f2;border-radius:10px;box-sizing:border-box;"></div><div class="t" style="left:1403.80px;top:644.77px;font-size:19px;line-height:19px;color:#1c1d20;font-weight:400;letter-spacing:0.05px;">60D</div>
<div class="rr" style="left:1080.70px;top:689.90px;width:143.80px;height:48.90px;background:#f2f2f2;border-radius:10px;box-sizing:border-box;"></div><div class="t" style="left:1095.50px;top:704.67px;font-size:19px;line-height:19px;color:#1c1d20;font-weight:400;letter-spacing:0.05px;">120D</div>
<div class="rr" style="left:1235.20px;top:689.90px;width:143.80px;height:48.90px;background:#f2f2f2;border-radius:10px;box-sizing:border-box;"></div><div class="t" style="left:1250.00px;top:704.67px;font-size:19px;line-height:19px;color:#1c1d20;font-weight:400;letter-spacing:0.05px;">250D</div>
<div class="rr" style="left:1389.00px;top:689.90px;width:144.10px;height:48.90px;background:#f2f2f2;border-radius:10px;box-sizing:border-box;"></div><div class="t" style="left:1403.80px;top:704.67px;font-size:19px;line-height:19px;color:#1c1d20;font-weight:400;letter-spacing:0.05px;">YTD Chg</div>
<div class="rr" style="left:1080.1px;top:859.5px;width:220px;height:47.7px;border:1px solid #5a5d62;border-radius:24px;box-sizing:border-box;background:#fff"></div>
<div class="t" style="left:1080.1px;width:220px;text-align:center;top:874.32px;font-size:19px;line-height:19px;color:#1c1d20;letter-spacing:0.2px">Reset</div>
<div class="rr" style="left:1315.3px;top:859.5px;width:220.3px;height:47.7px;border-radius:24px;background:#2b2e33"></div>
<div class="t" style="left:1315.3px;width:220.3px;text-align:center;top:874.32px;font-size:19px;line-height:19px;color:#fff;font-weight:700;letter-spacing:0.2px">Confirm</div>
</div>
<div class="border" style="left:1058px;top:20px;width:500px;height:894px"></div>
<div class="rr" style="left:543.50px;top:945px;width:499.50px;height:325px;box-sizing:border-box;border:1.6px solid #fda66d;border-radius:18px;background:#fef3ee"></div>
<div class="rr" style="left:592.00px;top:994px;width:29px;height:29px;border-radius:50%;background:#000"></div>
<div class="t" style="left:592.00px;width:29px;text-align:center;top:996.44px;font-size:25px;line-height:25px;color:#fff;font-family:'Liberation Serif',serif">1</div>
<div class="t" style="left:632.50px;top:991.60px;font-size:34.5px;line-height:34.5px;color:#0d0d0d;font-weight:400;letter-spacing:0.25px;">Tap the icons at the top</div>
<div class="t" style="left:587.80px;top:1040.70px;font-size:34.5px;line-height:34.5px;color:#0d0d0d;font-weight:400;letter-spacing:0.82px;">left to switch between</div>
<div class="t" style="left:587.80px;top:1089.80px;font-size:34.5px;line-height:34.5px;color:#0d0d0d;font-weight:400;letter-spacing:0.15px;">block and list views.</div>
<div class="rr" style="left:1057.60px;top:945px;width:499.50px;height:325px;box-sizing:border-box;border:1.6px solid #fda66d;border-radius:18px;background:#fef3ee"></div>
<div class="rr" style="left:1107.00px;top:994px;width:29px;height:29px;border-radius:50%;background:#000"></div>
<div class="t" style="left:1107.00px;width:29px;text-align:center;top:996.44px;font-size:25px;line-height:25px;color:#fff;font-family:'Liberation Serif',serif">2</div>
<div class="t" style="left:1146.60px;top:991.60px;font-size:34.5px;line-height:34.5px;color:#0d0d0d;font-weight:400;letter-spacing:0.45px;">Tap the filter icon to</div>
<div class="t" style="left:1101.90px;top:1040.70px;font-size:34.5px;line-height:34.5px;color:#0d0d0d;font-weight:400;letter-spacing:0.23px;">change the sorting order,</div>
<div class="t" style="left:1102.90px;top:1089.80px;font-size:34.5px;line-height:34.5px;color:#0d0d0d;font-weight:400;letter-spacing:0.21px;">the number of industries</div>
<div class="t" style="left:1102.90px;top:1138.90px;font-size:34.5px;line-height:34.5px;color:#0d0d0d;font-weight:400;">shown, or price change</div>
<div class="t" style="left:1102.90px;top:1188.00px;font-size:34.5px;line-height:34.5px;color:#0d0d0d;font-weight:400;letter-spacing:0.6px;">timeframes.</div>
<div class="t" style="left:0;width:1586px;text-align:center;top:1304.68px;font-size:22px;line-height:22px;color:#8e8e8e;letter-spacing:0.47px">Images provided are not current and any securities are shown for illustrative purposes only and is not a recommendation.</div>
</body></html>
